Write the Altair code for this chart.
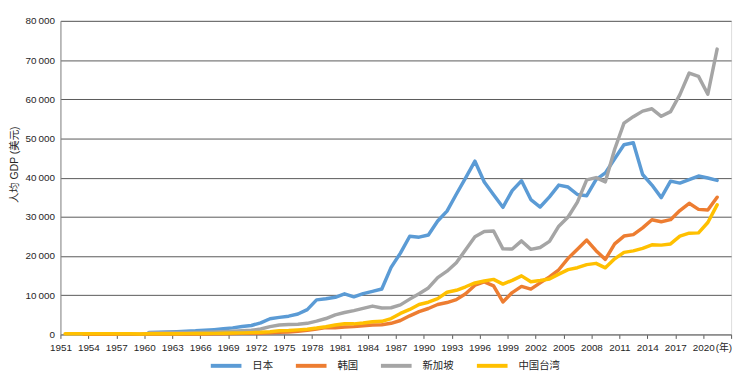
import altair as alt
import pandas as pd

names = ["日本", "韩国", "新加坡", "中国台湾"]
colors = ["#5B9BD5", "#ED7D31", "#A5A5A5", "#FFC000"]

japan_years = list(range(1960, 2022))
japan = [475, 564, 633, 718, 835, 919, 1058, 1228, 1450, 1669,
         2037, 2272, 2967, 3997, 4354, 4659, 5197, 6335, 8821, 9105,
         9463, 10361, 9578, 10425, 10984, 11585, 17112, 20745, 25052, 24813,
         25371, 28925, 31465, 35766, 39934, 44198, 38900, 35636, 32424, 36700,
         39200, 34400, 32500, 35100, 38100, 37600, 35700, 35400, 39500, 41200,
         44800, 48400, 48900, 40800, 38100, 34900, 39100, 38600, 39500, 40400,
         39900, 39300]

korea_years = list(range(1953, 2022))
korea = [67, 70, 65, 66, 74, 80, 81,
         158, 94, 106, 146, 124, 109, 133, 161, 198, 243,
         279, 301, 324, 406, 563, 617, 834, 1055, 1405, 1783,
         1715, 1883, 1992, 2199, 2413, 2482, 2835, 3555, 4749, 5817,
         6610, 7637, 8127, 8885, 10385, 12565, 13403, 12398, 8282, 10672,
         12257, 11561, 13165, 14673, 16496, 19403, 21743, 24086, 21350, 19144,
         23087, 25096, 25467, 27182, 29250, 28737, 29274, 31601, 33447, 31902,
         31721, 35000]

singapore_years = list(range(1960, 2022))
singapore = [428, 449, 472, 511, 485, 517, 567, 626, 708, 812,
             926, 1072, 1374, 1997, 2408, 2507, 2596, 2832, 3404, 4053,
             5005, 5596, 6078, 6633, 7228, 6755, 6808, 7539, 9001, 10394,
             11862, 14502, 16136, 18302, 21578, 24915, 26233, 26375, 21829, 21797,
             23853, 21700, 22160, 23730, 27609, 29961, 33769, 39432, 40008, 38927,
             47237, 53891, 55546, 56967, 57563, 55647, 56828, 61176, 66679, 65832,
             61274, 72794]

taiwan_years = list(range(1951, 2022))
taiwan = [154, 199, 180, 195, 208, 163, 176, 188, 134, 154,
          153, 163, 180, 203, 220, 240, 271, 307, 345, 397,
          454, 532, 703, 934, 985, 1166, 1337, 1618, 1959, 2389,
          2727, 2697, 2894, 3239, 3342, 4053, 5357, 6370, 7649, 8216,
          9116, 10769, 11252, 12160, 13130, 13634, 14040, 12840, 13804, 14941,
          13448, 13750, 14120, 15388, 16532, 17026, 17814, 18131, 16988, 19278,
          20939, 21308, 21973, 22874, 22780, 23091, 25080, 25838, 25908, 28549,
          33059]

x_ticks = [1950.5 + 3 * k for k in range(25)]
y_ticks = [0, 10000, 20000, 30000, 40000, 50000, 60000, 70000, 80000]

rows = []
for i, (nm, ys, vs) in enumerate([(names[0], japan_years, japan),
                                  (names[1], korea_years, korea),
                                  (names[2], singapore_years, singapore),
                                  (names[3], taiwan_years, taiwan)]):
    for yr, v in zip(ys, vs):
        rows.append({"year": yr, "gdp": v, "region": nm, "k": i})
df = pd.DataFrame(rows)

FONT = "Liberation Sans, Noto Sans CJK SC, sans-serif"

lines = alt.Chart(df).mark_line(strokeWidth=3.5, strokeJoin="round", strokeCap="round").encode(
    x=alt.X("year:Q",
            scale=alt.Scale(domain=[1950.5, 2022.5], nice=False, zero=False),
            axis=alt.Axis(values=x_ticks, tickCount=40, title=None, grid=False,
                          labelExpr="datum.value > 2022 ? '' : format(datum.value + 0.5, 'd')",
                          labelOverlap=False, labelFlush=False,
                          tickSize=4, tickColor="#595959", domainColor="#8c8c8c",
                          labelFontSize=10, labelColor="#262626", labelPadding=4,
                          labelFont=FONT)),
    y=alt.Y("gdp:Q",
            scale=alt.Scale(domain=[0, 80000], nice=False),
            axis=alt.Axis(values=y_ticks, tickCount=20, ticks=False, grid=True, gridColor="#595959",
                          gridWidth=1, domainColor="#8c8c8c",
                          labelExpr="replace(format(datum.value, ','), ',', '\u2009')",
                          labelFontSize=10, labelColor="#262626", labelPadding=6,
                          labelFont=FONT,
                          title="人均 GDP (美元)", titleFontSize=10.5, titleFontWeight="normal",
                          titleColor="#262626", titleFont=FONT,
                          titleX=-46, titleY=145, titleBaseline="middle", titleAngle=-90)),
    color=alt.Color("region:N",
                    scale=alt.Scale(domain=names, range=colors),
                    legend=alt.Legend(title=None, orient="none", direction="horizontal",
                                      legendX=150, legendY=331,
                                      symbolType="stroke", symbolSize=961,
                                      symbolStrokeWidth=4, labelOffset=9,
                                      columnPadding=15, padding=0,
                                      labelFontSize=10.5, labelColor="#262626",
                                      labelFont=FONT)),
    detail="k:O",
    order="year:Q",
)

nian = alt.Chart(pd.DataFrame({"t": ["(年)"]})).mark_text(
    align="right", baseline="top", fontSize=10, color="#262626", font=FONT, dx=1
).encode(x=alt.datum(2022.5), y=alt.value(326), text="t:N")

chart = alt.layer(lines, nian).properties(
    width=678, height=317,
    autosize=alt.AutoSizeParams(type="none"),
    padding={"left": 53, "top": 11, "right": 10, "bottom": 36},
).configure_view(stroke=None).configure(background="white")

chart.save("out.html", embed_options={"renderer": "svg", "actions": False})
